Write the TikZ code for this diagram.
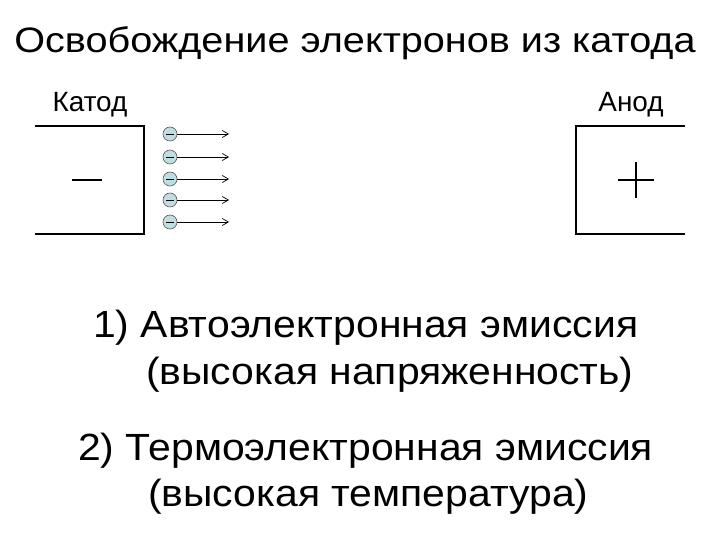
\documentclass[tikz,border=0pt]{standalone}
\usepackage{fontspec}
\setmainfont{Liberation Sans}
\newfontfamily\titlefont[FakeStretch=1.12]{Liberation Sans}
\newfontfamily\itemfont[FakeStretch=1.08]{Liberation Sans}
\usetikzlibrary{arrows.meta, positioning}
\definecolor{elfill}{RGB}{190,222,226}
\tikzset{
  plate/.style={line width=2.4pt, line cap=rect},
  electron/.style={circle, draw=gray!70!black, fill=elfill, minimum size=14bp, inner sep=0pt, line width=0.6pt},
  beam/.style={-{Straight Barb[length=6bp, width=7bp]}, line width=0.7pt},
  title/.style={font=\titlefont\fontsize{35.5}{38}\selectfont, anchor=base},
  label/.style={font=\fontsize{28}{30}\selectfont, anchor=base},
  item/.style={font=\itemfont\fontsize{38}{41}\selectfont, anchor=base west, inner sep=0pt}
}
\begin{document}
\begin{tikzpicture}[x=1bp, y=-1bp]
    \useasboundingbox (0,0) rectangle (720,540);

    % Title
    \node[title] (title) at (355,53) {Освобождение электронов из катода};

    % Electrode labels
    \node[label] (katodlbl) at (90,112) {Катод};
    \node[label] (anodlbl) at (631,112) {Анод};

    % Cathode plate
    \coordinate (ktop) at (36,126);
    \coordinate (kbot) at (36,234);
    \draw[plate] (ktop) -- (144,126) -- (144,234) -- (kbot);
    \node[inner sep=0pt, minimum width=29bp, minimum height=0pt] (kminus) at (87,180) {};
    \draw[line width=2pt] (kminus.west) -- (kminus.east);

    % Anode plate
    \coordinate (atop) at (684,126);
    \coordinate (abot) at (684,234);
    \draw[plate] (atop) -- (576,126) -- (576,234) -- (abot);
    \node[inner sep=0pt, minimum size=35bp] (aplus) at (636,180) {};
    \draw[line width=1.5pt] (aplus.west) -- (aplus.east);
    \draw[line width=1.5pt] (aplus.north) -- (aplus.south);

    % Electrons
    \foreach \i/\y in {1/134, 2/157, 3/179, 4/200, 5/222} {
        \node[electron] (e\i) at (170,\y) {};
        \draw[line width=0.8pt] ([xshift=-4bp]e\i.center) -- ([xshift=4bp]e\i.center);
        \coordinate (t\i) at (229,\y);
        \draw[beam] (e\i) -- (t\i);
    }

    % Emission types
    \node[item] (auto) at (93,337) {1) Автоэлектронная эмиссия};
    \node[item] (autonote) at (146,384) {(высокая напряженность)};
    \node[item] (thermo) at (78,460) {2) Термоэлектронная эмиссия};
    \node[item] (thermonote) at (148,506) {(высокая температура)};
\end{tikzpicture}
\end{document}
